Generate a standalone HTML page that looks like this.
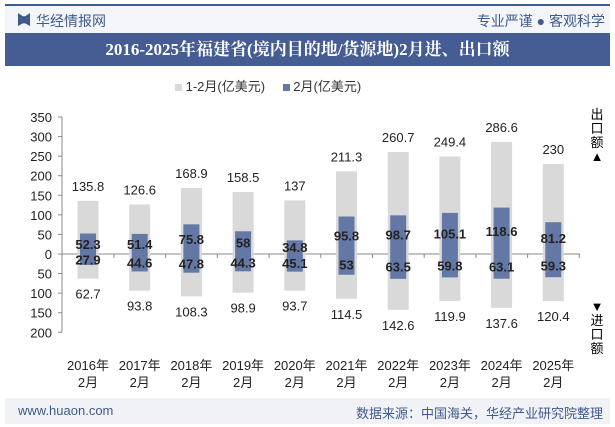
<!DOCTYPE html>
<html><head><meta charset="utf-8"><style>
body{margin:0;width:615px;height:427px;overflow:hidden;background:#fff;font-family:"Liberation Sans","Noto Sans CJK SC",sans-serif;position:relative}
.a{position:absolute}
</style></head><body>
<div class="a" style="left:5px;top:4px;width:605px;height:2px;background:#3f5a8c"></div>
<div class="a" style="left:5px;top:6px;width:605px;height:27px;background:#f3f5f9"></div>
<div class="a" style="left:18px;top:13px;width:12px;height:13px;background:#3f5a8c;clip-path:polygon(0 0,40% 25%,60% 25%,100% 0,100% 100%,60% 80%,40% 80%,0 100%)"></div>
<div class="a" style="left:36px;top:11px;font-size:14px;color:#3f5a8c">华经情报网</div>
<div class="a" style="right:10px;top:11px;font-size:14px;color:#3f5a8c">专业严谨 ● 客观科学</div>
<div class="a" style="left:5px;top:33px;width:605px;height:33px;background:#455d93;color:#fff;font-size:17px;font-weight:bold;line-height:33px;text-align:center;font-family:'Liberation Serif','Noto Serif CJK SC',serif">2016-2025年福建省(境内目的地/货源地)2月进、出口额</div>
<div class="a" style="left:175px;top:76px;font-size:13px;color:#333">
<span><span style="display:inline-block;width:7px;height:7px;background:#d9d9d9"></span> 1-2月(亿美元)</span>
<span style="margin-left:14px"><span style="display:inline-block;width:7px;height:7px;background:#6478a6"></span> 2月(亿美元)</span></div>
<div class="a" style="left:590px;top:108px;font-size:13px;width:14px;line-height:14px;text-align:center">出口额▲</div>
<div class="a" style="left:590px;top:300px;font-size:13px;width:14px;line-height:14px;text-align:center">▼进口额</div>
<svg class="a" style="left:0;top:0" width="615" height="427" id="chart"></svg>
<div class="a" style="left:5px;top:398px;width:605px;height:26px;background:#f0f2f6"></div>
<div class="a" style="left:18px;top:403px;font-size:13px;color:#3f5a8c">www.huaon.com</div>
<div class="a" style="right:12px;top:403px;font-size:13px;color:#3f5a8c">数据来源：中国海关，华经产业研究院整理</div>
<script>
const categories=["2016年","2017年","2018年","2019年","2020年","2021年","2022年","2023年","2024年","2025年"];
const ytdExport=[135.8,126.6,168.9,158.5,137,211.3,260.7,249.4,286.6,230];
const ytdImport=[62.7,93.8,108.3,98.9,93.7,114.5,142.6,119.9,137.6,120.4];
const febExport=[52.3,51.4,75.8,58,34.8,95.8,98.7,105.1,118.6,81.2];
const febImport=[27.9,44.6,47.8,44.3,45.1,53,63.5,59.8,63.1,59.3];
const yTicks=[350,300,250,200,150,100,50,0,-50,-100,-150,-200];
const svg=document.getElementById('chart');const NS='http://www.w3.org/2000/svg';
const y=v=>254-v*137/350;const x=i=>88+i*51.7;
function mk(t,a,txt){const e=document.createElementNS(NS,t);for(const k in a)e.setAttribute(k,a[k]);if(txt!==undefined)e.textContent=txt;svg.appendChild(e);return e;}
let ax=mk('line',{x1:62,y1:y(350),x2:62,y2:y(-200),stroke:'#888'});

let zx=mk('line',{x1:62,y1:y(0),x2:580,y2:y(0),stroke:'#888'});

yTicks.forEach(t=>{mk('line',{x1:58,x2:62,y1:y(t),y2:y(t),stroke:'#888'});
let l=mk('text',{x:52,y:y(t)+5,'text-anchor':'end','font-size':13,fill:'#222'},Math.abs(t));
});
categories.forEach((c,i)=>{const cx=x(i);
mk('line',{x1:cx+26,x2:cx+26,y1:y(0),y2:y(0)+4,stroke:'#888'});
let b=mk('rect',{x:cx-10.5,y:y(ytdExport[i]),width:21,height:y(-ytdImport[i])-y(ytdExport[i]),fill:'#d9d9d9'});

let d=mk('rect',{x:cx-8,y:y(febExport[i]),width:16,height:y(-febImport[i])-y(febExport[i]),fill:'#6478a6'});

let t1=mk('text',{x:cx,y:y(ytdExport[i])-10,'text-anchor':'middle','font-size':13,fill:'#222'},ytdExport[i]);

let t2=mk('text',{x:cx,y:y(-ytdImport[i])+20,'text-anchor':'middle','font-size':13,fill:'#222'},ytdImport[i]);

let t3=mk('text',{x:cx,y:y(febExport[i]/2)+5,'text-anchor':'middle','font-size':13,'font-weight':'bold',fill:'#222'},febExport[i]);

let t4=mk('text',{x:cx,y:y(-febImport[i]/2)+5,'text-anchor':'middle','font-size':13,'font-weight':'bold',fill:'#222'},febImport[i]);

let c1=mk('text',{x:cx,y:370,'text-anchor':'middle','font-size':13,fill:'#222'},c);

let c2=mk('text',{x:cx,y:387,'text-anchor':'middle','font-size':13,fill:'#222'},'2月');

});
</script>
</body></html>
